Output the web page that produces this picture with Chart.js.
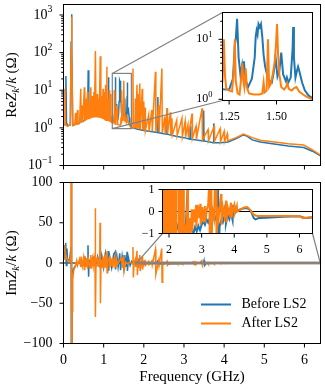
<!DOCTYPE html>
<html>
<head>
<meta charset="utf-8">
<script src="https://cdn.jsdelivr.net/npm/chart.js@4.4.0/dist/chart.umd.min.js"></script>
<style>
html, body { margin: 0; padding: 0; background: #fff; overflow: hidden; }
#wrap { position: relative; width: 325px; height: 390px; }
canvas { position: absolute; left: 0; top: 0; }
</style>
</head>
<body>
<div id="wrap">
  <canvas id="reMain" width="325" height="390"></canvas>
  <canvas id="reInset" width="325" height="390"></canvas>
  <canvas id="imMain" width="325" height="390"></canvas>
  <canvas id="imInset" width="325" height="390"></canvas>
</div>
<script>
// [frequency GHz, Re Zk/k (ohm)]
const reBefore = [
  [0,1.25],[0.04,1.3],[0.06,24],[0.075,1.4],[0.1,1.15],[0.17,1.2],[0.19,200],[0.2,1050],[0.21,150],[0.23,1.2],
  [0.3,1.25],[0.4,1.4],[0.5,1.55],[0.6,1.8],[0.615,34],[0.63,1.9],[0.7,2.0],[0.8,2.1],[0.9,2.0],[1.0,1.85],
  [1.11,1.7],[1.12,22],[1.13,1.7],[1.2,1.5],[1.22,1.47],[1.25,1.45],[1.27,2.2],[1.28,8],[1.285,10],[1.292,22],
  [1.3,5],[1.31,2.5],[1.318,3.6],[1.322,2.5],[1.328,4.3],[1.335,2.2],[1.35,1.6],[1.37,2.2],[1.385,5],[1.39,11],
  [1.395,14],[1.4,12],[1.405,18],[1.412,16],[1.418,18],[1.425,11],[1.432,5.5],[1.44,3.5],[1.45,2.6],[1.46,2.1],
  [1.475,1.9],[1.485,2.8],[1.495,5],[1.505,2.4],[1.515,3],[1.525,6],[1.535,2.6],[1.55,2.0],[1.555,2.3],[1.562,1.9],
  [1.575,2.3],[1.585,7],[1.588,16],[1.592,5],[1.6,2.3],[1.608,3],[1.614,3.5],[1.62,3],[1.635,1.9],[1.65,1.4],
  [1.67,1.15],[1.69,1.05],[1.72,1.0],[1.85,0.92],[2.0,0.85],[2.34,0.75],[2.35,6.6],[2.36,0.75],[2.5,0.7],[2.575,0.68],
  [2.58,3.3],[2.585,0.68],[2.8,0.6],[3.0,0.55],[3.15,0.5],[3.16,1.1],[3.17,0.5],[3.48,0.45],[3.49,2.9],[3.5,0.45],
  [3.73,0.4],[3.74,1.3],[3.75,0.4],[3.9,0.4],[4.1,0.42],[4.3,0.52],[4.48,0.65],[4.55,0.62],[4.7,0.48],[4.9,0.42],
  [5.2,0.38],[5.6,0.33],[5.98,0.3],[6.2,0.24],[6.4,0.18]
];
const reAfter = [
  [0,1.3],[0.02,1.2],[0.035,11],[0.05,1.2],[0.1,1.1],[0.17,1.2],[0.19,150],[0.2,900],[0.21,100],[0.23,1.15],
  [0.28,1.2],[0.3,2.5],[0.31,1.2],[0.35,3],[0.36,1.25],[0.4,1.3],[0.43,11],[0.44,1.4],[0.47,4],[0.48,1.4],
  [0.52,12],[0.53,1.5],[0.56,6],[0.57,1.6],[0.6,9],[0.61,1.7],[0.64,5],[0.65,1.7],[0.68,12],[0.69,1.8],
  [0.72,7],[0.73,1.85],[0.76,9],[0.77,1.9],[0.795,110],[0.81,1.9],[0.84,8],[0.85,1.9],[0.88,6],[0.89,1.85],
  [0.915,80],[0.93,1.8],[0.96,7],[0.97,1.75],[0.985,11],[0.995,1.7],[1.02,9],[1.03,1.6],[1.05,14],[1.06,1.6],
  [1.08,42],[1.09,1.55],[1.11,6],[1.12,1.5],[1.14,10],[1.15,1.45],[1.17,8],[1.18,1.45],[1.2,1.4],[1.215,2],
  [1.222,10],[1.228,2.5],[1.235,1.5],[1.25,1.4],[1.265,1.35],[1.275,3],[1.28,10],[1.285,2],[1.295,1.25],[1.305,1.2],
  [1.315,2.5],[1.32,4],[1.325,2],[1.33,1.6],[1.337,3.3],[1.343,1.6],[1.355,1.25],[1.38,1.2],[1.41,1.2],[1.425,1.25],
  [1.432,1.9],[1.437,1.3],[1.448,1.4],[1.455,10],[1.461,1.6],[1.47,1.8],[1.48,2.6],[1.49,4],[1.497,8],[1.503,18],
  [1.508,6],[1.515,2.6],[1.525,1.6],[1.54,1.45],[1.55,1.6],[1.557,1.85],[1.565,1.5],[1.58,1.4],[1.595,1.55],[1.605,1.6],
  [1.62,1.35],[1.64,1.2],[1.66,1.1],[1.69,1.0],[1.72,1.0],[1.73,38],[1.74,1.0],[1.78,1.0],[1.79,6],[1.8,0.98],
  [1.83,14],[1.84,0.95],[1.87,8],[1.88,0.95],[1.9,15],[1.91,0.9],[1.96,11],[1.97,0.88],[2.0,5],[2.01,0.85],
  [2.03,3.5],[2.04,0.85],[2.12,2.2],[2.13,0.8],[2.2,3],[2.21,0.8],[2.29,31],[2.3,0.78],[2.37,4],[2.38,0.76],
  [2.45,38],[2.46,0.74],[2.52,2],[2.53,0.72],[2.58,3.3],[2.59,0.7],[2.66,2.6],[2.67,0.66],[2.7,1.8],[2.71,0.65],
  [2.82,1.6],[2.83,0.62],[2.95,1.8],[2.96,0.6],[3.03,1.5],[3.04,0.58],[3.1,1.2],[3.11,0.55],[3.2,2.4],[3.21,0.52],
  [3.3,1.1],[3.31,0.5],[3.45,3.3],[3.46,0.48],[3.6,0.9],[3.61,0.45],[3.75,1.1],[3.76,0.44],[3.9,0.95],[3.91,0.43],
  [4.0,0.8],[4.01,0.43],[4.08,0.7],[4.09,0.45],[4.3,0.55],[4.48,0.68],[4.55,0.64],[4.7,0.55],[4.9,0.47],[5.2,0.43],
  [5.6,0.38],[5.98,0.35],[6.2,0.26],[6.4,0.19]
];

// [frequency GHz, Im Zk/k (ohm)]
const imBefore = [
  [0,15],[0.02,22],[0.04,5],[0.055,25],[0.07,-3],[0.085,18],[0.1,5],[0.15,3],[0.19,20],[0.195,300],
  [0.205,-300],[0.22,-10],[0.3,-3],[0.4,2],[0.5,-3],[0.55,5],[0.6,-2],[0.61,22],[0.625,-17],[0.64,3],
  [0.7,-2],[0.75,6],[0.8,-4],[0.85,8],[0.9,-3],[0.95,10],[1.0,-6],[1.05,12],[1.1,-5],[1.115,15],
  [1.125,-10],[1.15,8],[1.2,-6],[1.25,11],[1.29,14],[1.295,-8],[1.33,8],[1.36,-5],[1.4,12],[1.42,-9],
  [1.46,9],[1.5,-6],[1.525,10],[1.55,-5],[1.585,14],[1.592,-10],[1.62,6],[1.66,-3],[1.7,2],[1.75,-1.5],
  [1.8,-0.8],[1.85,-1.5],[1.9,-0.6],[1.95,-1.3],[2.0,-2],[2.05,-0.5],[2.1,-0.3],[2.15,-0.8],[2.2,-0.4],[2.3,-0.9],
  [2.34,2],[2.36,-3],[2.4,-0.9],[2.5,-1.1],[2.57,1],[2.59,-2],[2.65,-0.9],[2.7,-0.75],[2.75,-1.0],[2.8,-0.7],
  [2.85,-0.9],[2.9,-0.65],[2.95,-0.85],[3.0,-0.6],[3.05,-0.45],[3.1,-0.6],[3.15,-0.35],[3.2,-0.5],[3.25,-0.3],[3.3,-0.45],
  [3.35,-0.25],[3.4,-0.4],[3.45,-0.2],[3.485,-0.4],[3.5,3],[3.515,-3],[3.55,-0.7],[3.6,-0.4],[3.65,-0.5],[3.7,-0.2],
  [3.73,0.3],[3.745,-0.55],[3.8,-0.15],[3.85,-0.35],[3.9,-0.05],[3.95,-0.4],[3.97,0.3],[4.0,-0.1],[4.1,0.05],[4.2,0.1],
  [4.3,0.15],[4.4,0.15],[4.5,0.05],[4.6,-0.3],[4.65,-0.36],[4.75,-0.3],[5.0,-0.28],[5.5,-0.24],[6.0,-0.22],[6.2,-0.3],
  [6.4,-0.27]
];
const imAfter = [
  [0,18],[0.02,14],[0.035,22],[0.045,5],[0.06,10],[0.1,3],[0.15,2],[0.185,10],[0.195,400],[0.205,-400],
  [0.215,-60],[0.23,-20],[0.26,-8],[0.3,-4],[0.33,3],[0.35,-3],[0.4,5],[0.43,-5],[0.44,8],[0.47,-4],
  [0.5,6],[0.52,-8],[0.53,9],[0.56,-5],[0.58,6],[0.6,-7],[0.62,5],[0.66,-6],[0.68,10],[0.69,-7],
  [0.72,5],[0.74,-4],[0.76,6],[0.785,-5],[0.79,68],[0.8,-67],[0.81,3],[0.84,6],[0.86,-4],[0.88,5],
  [0.9,-3],[0.91,50],[0.92,-50],[0.935,4],[0.96,-5],[0.98,8],[0.99,-7],[1.02,6],[1.04,-5],[1.05,9],
  [1.075,12],[1.085,-12],[1.1,3],[1.14,7],[1.15,-6],[1.17,5],[1.18,-4],[1.22,7],[1.225,-6],[1.28,8],
  [1.285,-6],[1.32,4],[1.33,-3],[1.38,2],[1.45,6],[1.46,-6],[1.5,10],[1.51,-10],[1.55,1],[1.6,-1],
  [1.65,1],[1.72,-1],[1.73,20],[1.74,-18],[1.76,1],[1.79,5],[1.8,-5],[1.83,15],[1.84,-15],[1.87,6],
  [1.88,-6],[1.9,10],[1.91,-10],[1.96,8],[1.97,-8],[2.0,2],[2.03,3],[2.04,-3],[2.12,2],[2.13,-2],
  [2.2,2.5],[2.21,-2.5],[2.29,17],[2.3,-14],[2.37,3],[2.38,-3],[2.445,18],[2.455,-24],[2.47,-0.6],[2.52,-1.2],
  [2.55,-0.2],[2.58,2],[2.59,-2.5],[2.62,-0.3],[2.66,-1.1],[2.7,0.1],[2.71,-0.9],[2.76,0.1],[2.8,-0.5],[2.83,0.3],
  [2.84,-0.7],[2.88,0.3],[2.92,-0.3],[2.96,0.35],[2.97,-0.6],[3.02,0.2],[3.06,-0.5],[3.1,0.25],[3.11,-0.5],[3.16,0.1],
  [3.2,0.3],[3.24,1.5],[3.25,-2],[3.27,0],[3.29,1.2],[3.3,-2],[3.33,0.1],[3.38,-0.3],[3.445,3],[3.46,-3],
  [3.48,0.2],[3.52,-0.3],[3.56,0.3],[3.6,0.8],[3.61,-0.6],[3.65,0.2],[3.7,-0.2],[3.75,0.5],[3.76,-0.5],[3.8,0.2],
  [3.85,-0.1],[3.9,0.4],[3.91,-0.3],[3.95,0.1],[4.0,0.3],[4.01,-0.1],[4.05,0.1],[4.08,0.25],[4.09,0],[4.2,0.1],
  [4.3,0.18],[4.4,0.2],[4.5,0.05],[4.6,-0.15],[4.7,-0.2],[5.0,-0.2],[5.5,-0.2],[6.0,-0.2],[6.1,-0.3],[6.2,-0.28],
  [6.4,-0.25]
];

// tick values / labels
const freqTicks = [0, 1, 2, 3, 4, 5, 6];
const freqLabels = ['0', '1', '2', '3', '4', '5', '6'];
const reTicks = [0.1, 1, 10, 100, 1000];
const reExp = ['\u22121', '0', '1', '2', '3'];
const imTicks = [-100, -50, 0, 50, 100];
const imLabels = ['\u2212100', '\u221250', '0', '50', '100'];
const reInsetXTicks = [1.25, 1.5];
const reInsetXLabels = ['1.25', '1.50'];
const reInsetYTicks = [1, 10];
const reInsetExp = ['0', '1'];
const imInsetXTicks = [2, 3, 4, 5, 6];
const imInsetXLabels = ['2', '3', '4', '5', '6'];
const imInsetYTicks = [-1, 0, 1];
const imInsetYLabels = ['\u22121', '0', '1'];
const seriesNames = ['Before LS2', 'After LS2'];

const BLUE = '#1f77b4', ORANGE = '#ff7f0e', GREY = '#808080';
const FONT = '"Liberation Serif", "DejaVu Serif", serif';

function line(ctx, x0, y0, x1, y1) {
    ctx.beginPath();
    ctx.moveTo(x0, y0);
    ctx.lineTo(x1, y1);
    ctx.stroke();
}

function minorLog(lo, hi) {
    const out = [];
    for (let e = Math.floor(Math.log10(lo)); e <= Math.ceil(Math.log10(hi)); e++) {
        for (let m = 2; m <= 9; m++) {
            const v = m * Math.pow(10, e);
            if (v >= lo && v <= hi) out.push(v);
        }
    }
    return out;
}

function powLabel(ctx, exp, xr, yc, size) {
    const big = size + 'px ' + FONT, small = (size * 0.7) + 'px ' + FONT;
    ctx.font = small;
    const we = ctx.measureText(exp).width;
    ctx.font = big;
    const wb = ctx.measureText('10').width;
    ctx.textAlign = 'left';
    ctx.textBaseline = 'middle';
    ctx.fillText('10', xr - we - wb, yc);
    ctx.font = small;
    ctx.fillText(exp, xr - we, yc - size * 0.38);
}

function yTitle(ctx, x, yc, prefix) {
    const s = 15;
    const parts = [
        {t: prefix, f: s + 'px ' + FONT, dy: 0},
        {t: 'Z', f: 'italic ' + s + 'px ' + FONT, dy: 0},
        {t: 'k', f: 'italic ' + (s * 0.7) + 'px ' + FONT, dy: 3},
        {t: '/', f: s + 'px ' + FONT, dy: 0},
        {t: 'k', f: 'italic ' + s + 'px ' + FONT, dy: 0},
        {t: ' (\u03a9)', f: s + 'px ' + FONT, dy: 0},
    ];
    ctx.save();
    ctx.translate(x, yc);
    ctx.rotate(-Math.PI / 2);
    let total = 0;
    parts.forEach(p => { ctx.font = p.f; p.w = ctx.measureText(p.t).width; total += p.w; });
    let cx = -total / 2;
    ctx.textAlign = 'left';
    ctx.textBaseline = 'alphabetic';
    ctx.fillStyle = '#000';
    parts.forEach(p => { ctx.font = p.f; ctx.fillText(p.t, cx, p.dy); cx += p.w; });
    ctx.restore();
}

function markInset(chart, inset) {
    const {ctx, scales: {x, y}} = chart;
    const ic = inset.chart, ia = ic.chartArea;
    const x0 = x.getPixelForValue(ic.scales.x.min), x1 = x.getPixelForValue(ic.scales.x.max);
    const y0 = y.getPixelForValue(ic.scales.y.max), y1 = y.getPixelForValue(ic.scales.y.min);
    const rc = {tl: [x0, y0], tr: [x1, y0], bl: [x0, y1], br: [x1, y1]};
    const ib = {tl: [ia.left, ia.top], tr: [ia.right, ia.top], bl: [ia.left, ia.bottom], br: [ia.right, ia.bottom]};
    ctx.strokeStyle = GREY;
    ctx.lineWidth = 1.2;
    ctx.strokeRect(x0, y0, x1 - x0, y1 - y0);
    inset.corners.forEach(c => line(ctx, rc[c][0], rc[c][1], ib[c][0], ib[c][1]));
}

function framePlugin(spec) {
    return {
        id: 'frame',
        beforeDatasetsDraw(chart) {
            const {ctx, chartArea: a} = chart;
            ctx.save();
            if (spec.white) {
                ctx.fillStyle = '#fff';
                ctx.fillRect(a.left, a.top, a.width, a.height);
            }
            if (spec.zero) {
                const py = chart.scales.y.getPixelForValue(0);
                ctx.strokeStyle = '#000';
                ctx.lineWidth = 1.2;
                line(ctx, a.left, py, a.right, py);
            }
            ctx.restore();
        },
        afterDatasetsDraw(chart) {
            const {ctx, chartArea: a, scales: {x, y}} = chart;
            ctx.save();
            if (spec.inset) markInset(chart, spec.inset);
            ctx.strokeStyle = '#000';
            ctx.fillStyle = '#000';
            ctx.lineWidth = 1;
            ctx.strokeRect(a.left, a.top, a.width, a.height);
            const font = spec.size + 'px ' + FONT;
            spec.xTicks.forEach((v, i) => {
                const px = x.getPixelForValue(v);
                line(ctx, px, a.bottom, px, a.bottom + 4);
                if (spec.xLabels) {
                    ctx.font = font;
                    ctx.textAlign = 'center';
                    ctx.textBaseline = 'alphabetic';
                    ctx.fillText(spec.xLabels[i], px, a.bottom + spec.xDy);
                }
            });
            spec.yTicks.forEach((v, i) => {
                const py = y.getPixelForValue(v);
                line(ctx, a.left - 4, py, a.left, py);
                if (spec.yExp) {
                    powLabel(ctx, spec.yExp[i], a.left - spec.yPad, py, spec.size);
                } else {
                    ctx.font = font;
                    ctx.textAlign = 'right';
                    ctx.textBaseline = 'middle';
                    ctx.fillText(spec.yLabels[i], a.left - spec.yPad, py);
                }
            });
            (spec.yMinor || []).forEach(v => {
                const py = y.getPixelForValue(v);
                line(ctx, a.left - 2.3, py, a.left, py);
            });
            if (spec.title) yTitle(ctx, 15.5, (a.top + a.bottom) / 2, spec.title);
            if (spec.xTitle) {
                ctx.font = '15px ' + FONT;
                ctx.textAlign = 'center';
                ctx.textBaseline = 'alphabetic';
                ctx.fillText(spec.xTitle, (a.left + a.right) / 2, 381);
            }
            if (spec.legend) {
                [BLUE, ORANGE].forEach((c, i) => {
                    const ly = 304.5 + i * 19;
                    ctx.strokeStyle = c;
                    ctx.lineWidth = 2;
                    line(ctx, 201, ly, 231, ly);
                    ctx.font = '14px ' + FONT;
                    ctx.textAlign = 'left';
                    ctx.textBaseline = 'middle';
                    ctx.fillText(seriesNames[i], 241.5, ly);
                });
            }
            ctx.restore();
        }
    };
}

function makeChart(id, box, xr, yr, yType, before, after, width, spec) {
    const pts = d => d.map(p => ({x: p[0], y: p[1]}));
    return new Chart(document.getElementById(id), {
        type: 'line',
        data: {
            datasets: [
                {label: seriesNames[0], data: pts(before), borderColor: BLUE, borderWidth: width, order: 2},
                {label: seriesNames[1], data: pts(after), borderColor: ORANGE, borderWidth: width, order: 1},
            ]
        },
        options: {
            responsive: false,
            animation: false,
            events: [],
            layout: {padding: {left: box[0], top: box[1], right: 325 - box[2], bottom: 390 - box[3]}},
            elements: {point: {radius: 0}, line: {tension: 0}},
            plugins: {legend: {display: false}, tooltip: {enabled: false}},
            scales: {
                x: {type: 'linear', min: xr[0], max: xr[1], display: false},
                y: {type: yType, min: yr[0], max: yr[1], display: false}
            }
        },
        plugins: [framePlugin(spec)]
    });
}

const reInsetChart = makeChart('reInset', [222.5, 12.5, 312.5, 100.5], [1.215, 1.69], [0.955, 28],
    'logarithmic', reBefore, reAfter, 2, {
        white: true, size: 12, xTicks: reInsetXTicks, xLabels: reInsetXLabels, xDy: 19.5,
        yTicks: reInsetYTicks, yExp: reInsetExp, yMinor: minorLog(0.955, 28), yPad: 10
    });

const imInsetChart = makeChart('imInset', [162.5, 189.5, 312.5, 233.5], [1.8, 6.4], [-1, 1],
    'linear', imBefore, imAfter, 2, {
        white: true, zero: true, size: 12, xTicks: imInsetXTicks, xLabels: imInsetXLabels, xDy: 19.5,
        yTicks: imInsetYTicks, yLabels: imInsetYLabels, yPad: 8
    });

makeChart('reMain', [63.5, 4.5, 320.5, 165.5], [0, 6.4], [0.1, 1900],
    'logarithmic', reBefore, reAfter, 1.5, {
        size: 14, xTicks: freqTicks, yTicks: reTicks, yExp: reExp, yMinor: minorLog(0.1, 1900), yPad: 11,
        title: 'Re', inset: {chart: reInsetChart, corners: ['tl', 'bl']}
    });

makeChart('imMain', [63.5, 182.5, 320.5, 343.5], [0, 6.4], [-100, 100],
    'linear', imBefore, imAfter, 1.5, {
        zero: true, size: 14, xTicks: freqTicks, xLabels: freqLabels, xDy: 20,
        yTicks: imTicks, yLabels: imLabels, yPad: 11, title: 'Im', xTitle: 'Frequency (GHz)',
        legend: true, inset: {chart: imInsetChart, corners: ['bl', 'br']}
    });
</script>
</body>
</html>
